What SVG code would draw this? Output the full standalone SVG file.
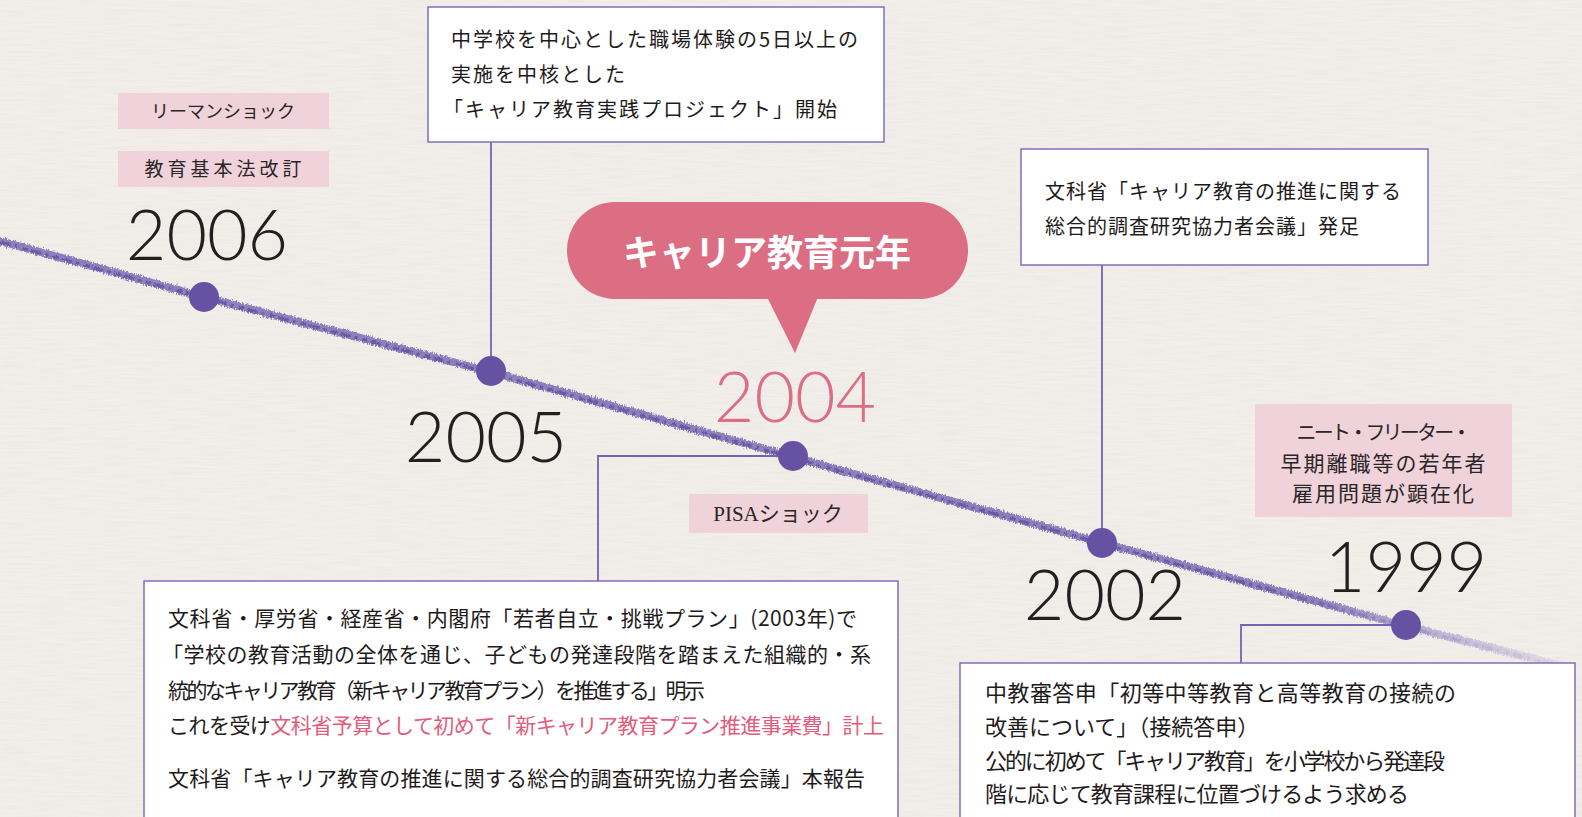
<svg xmlns="http://www.w3.org/2000/svg" width="1582" height="817" viewBox="0 0 1582 817">
<style>
.yr{font-family:Lato,'Liberation Sans',sans-serif;font-weight:300;font-size:70px;fill:#231f20;text-anchor:middle}
.jp{font-family:'Noto Sans CJK JP','Noto Sans',sans-serif;fill:#1f1b1c}
.tag{font-family:'Liberation Serif','Noto Sans CJK JP',serif;fill:#2a2526;text-anchor:middle}
.pinkbox{fill:#f0d3da}
.box{fill:#ffffff;stroke:#7f6fb6;stroke-width:1.5}
.conn{fill:none;stroke:#7463b0;stroke-width:1.8}
.dot{fill:#6751a3}
.red{fill:#e35c7b}
</style>
<defs>
<filter id="paper" x="0" y="0" width="100%" height="100%">
<feTurbulence type="fractalNoise" baseFrequency="0.03 0.5" numOctaves="2" seed="3" result="n"/>
<feColorMatrix type="matrix" values="0 0 0 0 0.55  0 0 0 0 0.52  0 0 0 0 0.48  0 0 0 -1.1 0.75" in="n"/>
</filter>
<filter id="crayon" x="-5%" y="-20%" width="110%" height="140%">
<feTurbulence type="fractalNoise" baseFrequency="0.9 0.35" numOctaves="2" seed="7" result="t"/>
<feDisplacementMap in="SourceGraphic" in2="t" scale="5" xChannelSelector="R" yChannelSelector="G"/>
</filter>
<linearGradient id="fade" x1="0" y1="0" x2="1" y2="0">
<stop offset="0" stop-color="#7464b0" stop-opacity="0.8"/>
<stop offset="0.84" stop-color="#7464b0" stop-opacity="0.8"/>
<stop offset="1" stop-color="#a89dd0" stop-opacity="0.2"/>
</linearGradient>
<linearGradient id="fade2" x1="0" y1="0" x2="1" y2="0">
<stop offset="0" stop-color="#4f3f93" stop-opacity="0.6"/>
<stop offset="0.8" stop-color="#4f3f93" stop-opacity="0.6"/>
<stop offset="1" stop-color="#8f84c0" stop-opacity="0.1"/>
</linearGradient>
</defs>

<rect width="1582" height="817" fill="#f2efea"/>
<rect width="1582" height="817" filter="url(#paper)" opacity="0.18"/>

<!-- timeline -->
<g id="timeline">
<path d="M0,241 L204,297 L491,372 L793,457 L1103,543 L1406,626 L1570,668" fill="none" stroke="url(#fade)" stroke-width="8" stroke-linecap="round" filter="url(#crayon)"/>
<path d="M0,242 L204,298 L491,373 L793,458 L1103,544 L1406,627 L1560,666" fill="none" stroke="url(#fade2)" stroke-width="3" stroke-dasharray="11 4 3 5 6 3" filter="url(#crayon)"/>
</g>

<!-- connectors -->
<g id="connectors">
<path class="conn" d="M491,142 L491,371"/>
<path class="conn" d="M793,456 L598,456 L598,581"/>
<path class="conn" d="M1102,265 L1102,543"/>
<path class="conn" d="M1406,625 L1241,625 L1241,663"/>
</g>

<!-- 2006 -->
<g id="node-2006">
<rect class="pinkbox" x="118" y="93" width="211" height="36"/>
<text class="tag" x="223" y="118" font-size="18">リーマンショック</text>
<rect class="pinkbox" x="118" y="151" width="211" height="36"/>
<text class="tag" x="225" y="176" font-size="19" letter-spacing="4">教育基本法改訂</text>
<text class="yr" x="207" y="260">2006</text>
<circle class="dot" cx="204" cy="297" r="15"/>
</g>

<!-- 2005 -->
<g id="node-2005">
<rect class="box" x="428" y="7" width="456" height="135"/>
<text class="jp" x="451" y="47" font-size="20" letter-spacing="2">中学校を中心とした職場体験の5日以上の</text>
<text class="jp" x="451" y="82" font-size="20" letter-spacing="2">実施を中核とした</text>
<text class="jp" x="443" y="117" font-size="20" letter-spacing="2">「キャリア教育実践プロジェクト」開始</text>
<text class="yr" x="486" y="462">2005</text>
<circle class="dot" cx="491" cy="371" r="15"/>
</g>

<!-- 2004 -->
<g id="node-2004">
<g id="bubble">
<rect x="567" y="202" width="401" height="97" rx="48" fill="#dc6e84"/>
<polygon points="767,297 818,297 795,353" fill="#dc6e84"/>
<text x="767" y="266" font-family="'Noto Sans CJK JP','Noto Sans',sans-serif" font-weight="700" font-size="36" fill="#ffffff" text-anchor="middle">キャリア教育元年</text>
</g>
<text class="yr" x="795" y="422" style="fill:#dc6e84">2004</text>
<circle class="dot" cx="793" cy="456" r="15"/>
<rect class="pinkbox" x="689" y="494" width="179" height="39"/>
<text class="tag" x="778" y="521" font-size="21">PISAショック</text>
<rect class="box" x="144" y="581" width="754" height="250"/>
<text class="jp" x="168" y="626" font-size="21" textLength="689">文科省・厚労省・経産省・内閣府「若者自立・挑戦プラン」(2003年)で</text>
<text class="jp" x="162" y="662" font-size="21" textLength="709">「学校の教育活動の全体を通じ、子どもの発達段階を踏まえた組織的・系</text>
<text class="jp" x="168" y="698" font-size="21" textLength="537">統的なキャリア教育（新キャリア教育プラン）を推進する」明示</text>
<text class="jp" x="168" y="733" font-size="21" textLength="716">これを受け<tspan class="red">文科省予算として初めて「新キャリア教育プラン推進事業費」計上</tspan></text>
<text class="jp" x="168" y="786" font-size="21" textLength="697">文科省「キャリア教育の推進に関する総合的調査研究協力者会議」本報告</text>
</g>

<!-- 2002 -->
<g id="node-2002">
<rect class="box" x="1021" y="149" width="407" height="116"/>
<text class="jp" x="1045" y="199" font-size="20" letter-spacing="1">文科省「キャリア教育の推進に関する</text>
<text class="jp" x="1045" y="234" font-size="20" letter-spacing="1">総合的調査研究協力者会議」発足</text>
<text class="yr" x="1105" y="620">2002</text>
<circle class="dot" cx="1102" cy="543" r="15"/>
</g>

<!-- 1999 -->
<g id="node-1999">
<rect class="pinkbox" x="1255" y="404" width="257" height="113"/>
<text class="tag" x="1384" y="440" font-size="20" textLength="175">ニート・フリーター・</text>
<text class="tag" x="1384" y="471" font-size="21" letter-spacing="2">早期離職等の若年者</text>
<text class="tag" x="1384" y="501" font-size="21" letter-spacing="2">雇用問題が顕在化</text>
<text class="yr" x="1406" y="592">1999</text>
<circle class="dot" cx="1406" cy="625" r="15"/>
<rect class="box" x="960" y="663" width="615" height="170"/>
<text class="jp" x="985" y="701" font-size="22" textLength="471">中教審答申「初等中等教育と高等教育の接続の</text>
<text class="jp" x="985" y="735" font-size="22">改善について」（接続答申）</text>
<text class="jp" x="985" y="769" font-size="22" textLength="460">公的に初めて「キャリア教育」を小学校から発達段</text>
<text class="jp" x="985" y="802" font-size="22" textLength="424">階に応じて教育課程に位置づけるよう求める</text>
</g>
</svg>
